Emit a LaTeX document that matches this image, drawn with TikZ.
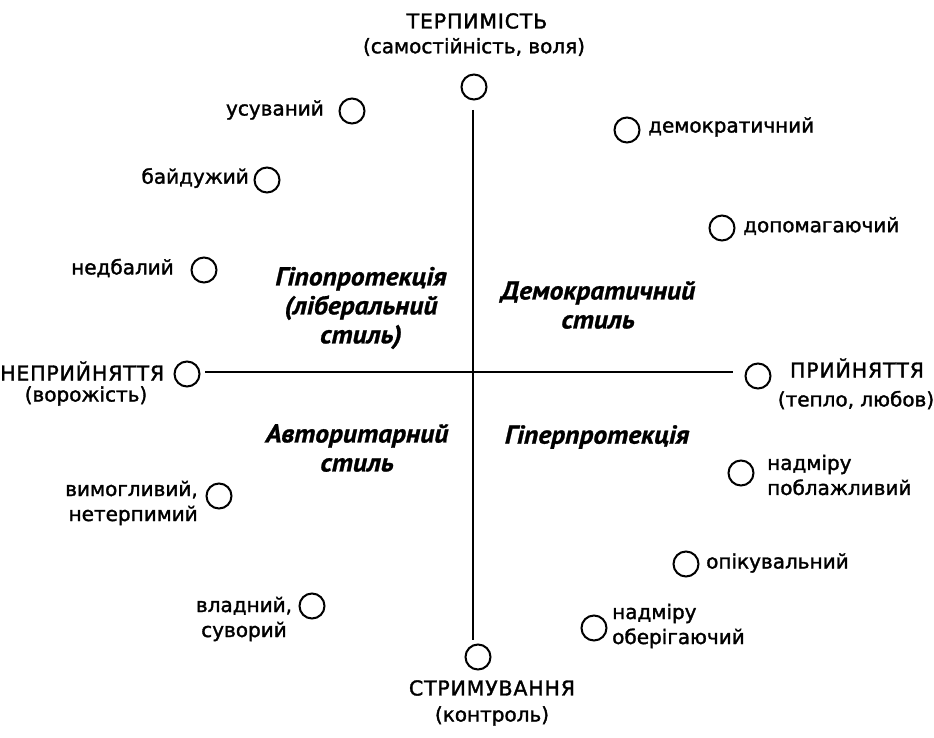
\documentclass[tikz,border=0pt]{standalone}
\usepackage{fontspec}
\setmainfont{DejaVu Sans}[FakeBold=1.6]
\newfontfamily\capfam{DejaVu Sans}[FakeBold=1.6,LetterSpace=4]
\newfontfamily\quadfam{PT Sans}[FakeStretch=1.06,FakeBold=1]
\begin{document}
\begin{tikzpicture}[x=1pt,y=-1pt,
  dot/.style={circle,draw,line width=2pt,minimum size=25pt,inner sep=0pt},
  lbl/.style={inner sep=0pt,font=\fontsize{20}{25}\selectfont,align=center},
  captxt/.style={inner sep=0pt,font=\capfam\fontsize{20.5}{24}\selectfont},
  quad/.style={inner sep=0pt,align=center,font=\quadfam\fontsize{26}{29}\selectfont\bfseries\itshape},
  axis/.style={line width=1.3pt}]
\useasboundingbox (0,0) rectangle (934,738);
% axis end circles
\node[dot] (top) at (474,87) {};
\node[dot] (bot) at (478,657) {};
\node[dot] (lft) at (187,374) {};
\node[dot] (rgt) at (758,376) {};
\coordinate (vt) at (473,110);
\coordinate (vb) at (473,640);
\coordinate (hl) at (205,372);
\coordinate (hr) at (733,372);
\draw[axis] (vt) -- (vb);
\draw[axis] (hl) -- (hr);
% axis captions
\node[captxt] (tterp) at (477,21) {ТЕРПИМІСТЬ};
\node[lbl] (tterp2) at (474,47) {(самостійність, воля)};
\node[captxt] (tstr) at (492,688) {СТРИМУВАННЯ};
\node[lbl] (tstr2) at (492,716) {(контроль)};
\node[captxt,anchor=west] (tnep) at (0,371) {НЕПРИЙНЯТТЯ};
\node[lbl] (tnep2) at (86,396) {(ворожість)};
\node[captxt] (tpr) at (857,368) {ПРИЙНЯТТЯ};
\node[lbl] (tpr2) at (856,400) {(тепло, любов)};
% left-top group
\node[dot] (c1) at (352,111) {};
\node[lbl,anchor=east] (t1) at (324,110) {усуваний};
\node[dot] (c2) at (267,180) {};
\node[lbl,anchor=east] (t2) at (249,178) {байдужий};
\node[dot] (c3) at (204,270) {};
\node[lbl,anchor=east] (t3) at (174,268) {недбалий};
% right-top group
\node[dot] (c4) at (627,130) {};
\node[lbl,anchor=west] (t4) at (648,127) {демократичний};
\node[dot] (c5) at (722,228) {};
\node[lbl,anchor=west] (t5) at (743,226) {допомагаючий};
% right-bottom group
\node[dot] (c6) at (741,473) {};
\node[lbl,anchor=west,align=left] (t6) at (767,475) {надміру\\поблажливий};
\node[dot] (c7) at (686,564) {};
\node[lbl,anchor=west] (t7) at (706,563) {опікувальний};
\node[dot] (c8) at (594,628) {};
\node[lbl,anchor=west,align=left] (t8) at (612,626) {надміру\\оберігаючий};
% left-bottom group
\node[dot] (c9) at (219,496) {};
\node[lbl,anchor=east,align=right] (t9) at (198,503) {вимогливий,\\нетерпимий};
\node[dot] (c10) at (312,606) {};
\node[lbl] (t10) at (244,619) {владний,\\суворий};
% quadrant labels
\node[quad] (q1) at (361,308) {Гіпопротекція\\(ліберальний\\стиль)};
\node[quad] (q2) at (598,305) {Демократичний\\стиль};
\node[quad] (q3) at (357,448) {Авторитарний\\стиль};
\node[quad] (q4) at (597,437) {Гіперпротекція};
\end{tikzpicture}
\end{document}
